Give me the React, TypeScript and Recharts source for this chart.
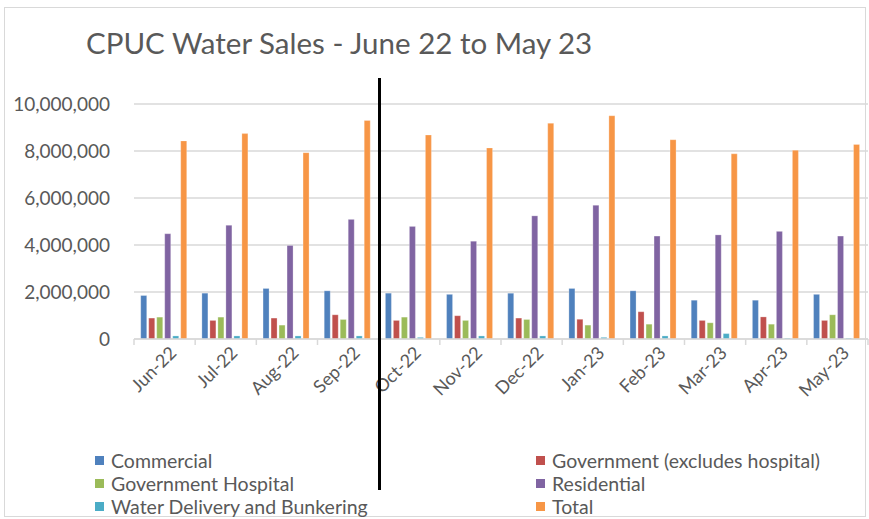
import React from 'react';
import { BarChart, Bar, XAxis, YAxis, CartesianGrid } from 'recharts';

// Monthly water sales (units as in source chart)
const months = ['Jun-22', 'Jul-22', 'Aug-22', 'Sep-22', 'Oct-22', 'Nov-22', 'Dec-22', 'Jan-23', 'Feb-23', 'Mar-23', 'Apr-23', 'May-23'];
const commercial = [1850000, 1950000, 2150000, 2050000, 1950000, 1900000, 1950000, 2150000, 2050000, 1650000, 1650000, 1900000];
const government = [890000, 790000, 890000, 1030000, 790000, 990000, 890000, 840000, 1160000, 790000, 940000, 790000];
const govHospital = [930000, 930000, 590000, 830000, 930000, 790000, 830000, 590000, 630000, 690000, 630000, 1030000];
const residential = [4480000, 4840000, 3980000, 5090000, 4790000, 4160000, 5240000, 5690000, 4380000, 4430000, 4580000, 4380000];
const waterDelivery = [130000, 130000, 130000, 130000, 70000, 130000, 130000, 70000, 130000, 230000, 40000, 40000];
const total = [8430000, 8740000, 7930000, 9300000, 8680000, 8130000, 9180000, 9500000, 8480000, 7880000, 8030000, 8280000];
const yTicks = [0, 2000000, 4000000, 6000000, 8000000, 10000000];

const series = [
  { key: 'commercial', name: 'Commercial', color: '#4f81bd', values: commercial },
  { key: 'government', name: 'Government (excludes hospital)', color: '#c0504d', values: government },
  { key: 'govHospital', name: 'Government Hospital', color: '#9bbb59', values: govHospital },
  { key: 'residential', name: 'Residential', color: '#8064a2', values: residential },
  { key: 'waterDelivery', name: 'Water Delivery and Bunkering', color: '#4bacc6', values: waterDelivery },
  { key: 'total', name: 'Total', color: '#f79646', values: total },
];

const rows = months.map((m, i) => {
  const row: Record<string, string | number> = { month: m };
  series.forEach((s) => {
    row[s.key] = s.values[i];
  });
  return row;
});

const W = 869;
const H = 519;
const FONT = 'Lato, "Open Sans", sans-serif';
const TEXT = '#595959';
const PLOT_LEFT = 134;
const PLOT_RIGHT = 1;
const HALF_BAND = (W - PLOT_LEFT - PLOT_RIGHT) / months.length / 2;

const fmt = (v: number) => v.toLocaleString('en-US');

const MonthTick = (props: any) => {
  const { x, y, payload, index } = props;
  return (
    <g>
      <line x1={x - HALF_BAND} y1={y} x2={x - HALF_BAND} y2={y + 6} stroke="#d9d9d9" strokeWidth={1.5} />
      {index === months.length - 1 && (
        <line x1={x + HALF_BAND} y1={y} x2={x + HALF_BAND} y2={y + 6} stroke="#d9d9d9" strokeWidth={1.5} />
      )}
      <text
        transform={`translate(${x + 13},${y + 15}) rotate(-45)`}
        textAnchor="end"
        fill={TEXT}
        fontSize={18}
        fontFamily={FONT}
      >
        {payload.value}
      </text>
    </g>
  );
};

export default function App() {
  const legendLeft = series.filter((_, i) => i % 2 === 0);
  const legendRight = series.filter((_, i) => i % 2 === 1);
  const legendItem = (s: typeof series[0]) => (
    <div key={s.key} style={{ display: 'flex', alignItems: 'center', height: 23 }}>
      <span style={{ width: 9, height: 9, background: s.color, marginRight: 7 }} />
      <span>{s.name}</span>
    </div>
  );

  return (
    <div
      style={{
        position: 'absolute',
        left: 0,
        top: 0,
        width: W,
        height: H,
        background: '#fff',
        fontFamily: FONT,
        color: TEXT,
        overflow: 'hidden',
      }}
    >
      <div
        style={{
          position: 'absolute',
          left: 4,
          top: 7,
          width: W - 7,
          height: H - 9,
          border: '1px solid #d9d9d9',
          boxSizing: 'border-box',
        }}
      />
      <div style={{ position: 'absolute', left: 86, top: 25, fontSize: 29.5, whiteSpace: 'nowrap' }}>
        CPUC Water Sales - June 22 to May 23
      </div>
      <div style={{ position: 'absolute', left: 0, top: 0 }}>
        <BarChart
          width={W}
          height={H}
          data={rows}
          margin={{ top: 104, right: PLOT_RIGHT, left: 0, bottom: 0 }}
          barCategoryGap="11%"
          barGap={2}
        >
          <CartesianGrid vertical={false} stroke="#d9d9d9" strokeWidth={1.5} />
          <XAxis
            dataKey="month"
            height={H - 104 - 235}
            interval={0}
            stroke="#d9d9d9"
            strokeWidth={1.5}
            tickLine={false}
            tickSize={0}
            tickMargin={0}
            tick={<MonthTick />}
          />
          <YAxis
            width={PLOT_LEFT}
            domain={[0, 10000000]}
            ticks={yTicks}
            tickFormatter={fmt}
            axisLine={false}
            tickLine={false}
            tickSize={0}
            tickMargin={24}
            tick={{ fill: TEXT, fontSize: 19, fontFamily: FONT }}
          />
          {series.map((s) => (
            <Bar
              key={s.key}
              dataKey={s.key}
              name={s.name}
              fill={s.color}
              stroke="#ffffff"
              strokeOpacity={0.5}
              strokeWidth={0.5}
              isAnimationActive={false}
            />
          ))}
        </BarChart>
      </div>
      <div style={{ position: 'absolute', left: 95, top: 449, fontSize: 19.5 }}>
        {legendLeft.map(legendItem)}
      </div>
      <div style={{ position: 'absolute', left: 536, top: 449, fontSize: 19.5 }}>
        {legendRight.map(legendItem)}
      </div>
      <div style={{ position: 'absolute', left: 378, top: 78, width: 3, height: 412, background: '#000' }} />
    </div>
  );
}
